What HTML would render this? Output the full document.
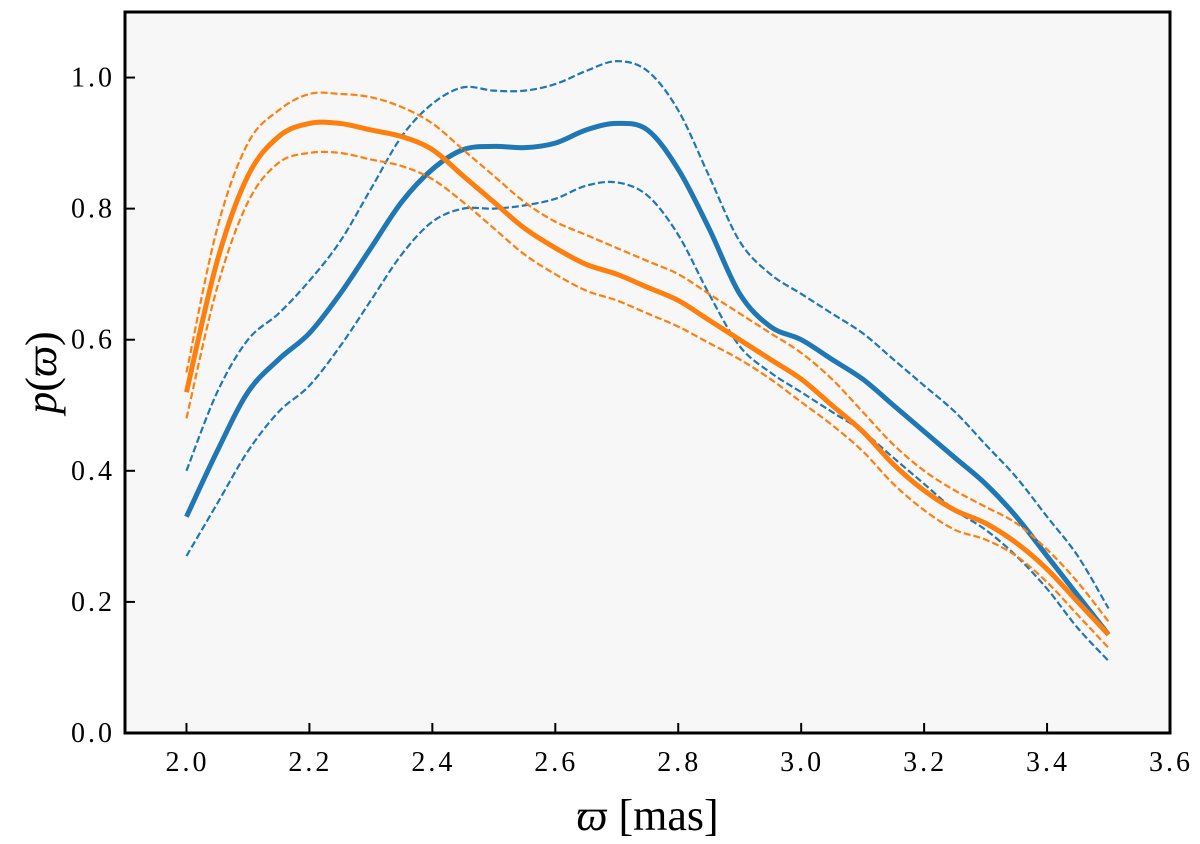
<!DOCTYPE html>
<html><head><meta charset="utf-8">
<style>
html,body{margin:0;padding:0;background:#fff;}
svg{display:block;font-family:"Liberation Serif",serif;}
</style></head>
<body>
<svg id="chart" width="1200" height="844"></svg>
<script>
const xs=[2.0,2.05,2.1,2.15,2.2,2.25,2.3,2.35,2.4,2.45,2.5,2.55,2.6,2.65,2.7,2.75,2.8,2.85,2.9,2.95,3.0,3.05,3.1,3.15,3.2,3.25,3.3,3.35,3.4,3.45,3.5];
const blueMean=[0.33,0.43,0.52,0.57,0.61,0.67,0.74,0.81,0.86,0.89,0.895,0.893,0.90,0.92,0.93,0.92,0.86,0.77,0.67,0.62,0.60,0.57,0.54,0.50,0.46,0.42,0.38,0.33,0.27,0.21,0.15];
const blueUpper=[0.40,0.52,0.60,0.64,0.69,0.75,0.83,0.91,0.96,0.985,0.98,0.98,0.99,1.01,1.025,1.01,0.95,0.85,0.75,0.70,0.67,0.64,0.61,0.57,0.53,0.49,0.44,0.39,0.33,0.27,0.19];
const blueLower=[0.27,0.35,0.43,0.49,0.53,0.59,0.66,0.73,0.78,0.80,0.80,0.805,0.815,0.835,0.84,0.82,0.76,0.67,0.59,0.55,0.52,0.49,0.46,0.42,0.38,0.34,0.31,0.27,0.22,0.16,0.11];
const orangeMean=[0.52,0.72,0.85,0.91,0.93,0.93,0.92,0.91,0.89,0.85,0.81,0.77,0.74,0.715,0.70,0.68,0.66,0.63,0.60,0.57,0.54,0.50,0.46,0.41,0.37,0.34,0.32,0.29,0.25,0.20,0.15];
const orangeUpper=[0.55,0.77,0.90,0.95,0.975,0.975,0.97,0.955,0.93,0.89,0.85,0.81,0.78,0.76,0.74,0.72,0.70,0.67,0.64,0.61,0.58,0.54,0.49,0.44,0.40,0.37,0.345,0.32,0.28,0.23,0.17];
const orangeLower=[0.48,0.68,0.81,0.87,0.885,0.885,0.875,0.865,0.845,0.81,0.77,0.73,0.70,0.675,0.66,0.64,0.62,0.595,0.57,0.54,0.505,0.47,0.43,0.38,0.34,0.31,0.295,0.27,0.23,0.18,0.13];
const xTicks=[2.0,2.2,2.4,2.6,2.8,3.0,3.2,3.4,3.6];
const yTicks=[0.0,0.2,0.4,0.6,0.8,1.0];

const L=125,R=1170,T=12,B=733;
const X=v=>L+(v-1.9)/(3.6-1.9)*(R-L);
const Y=v=>B-(v-0)/(1.1-0)*(B-T);
const NS='http://www.w3.org/2000/svg';
const svg=document.getElementById('chart');
function mk(tag,attrs,parent){const e=document.createElementNS(NS,tag);for(const k in attrs)e.setAttribute(k,attrs[k]);(parent||svg).appendChild(e);return e;}

const bg=mk('rect',{x:L,y:T,width:R-L,height:B-T,fill:'#f7f7f7'});



function path(vals){
  const p=xs.map((x,i)=>[X(x),Y(vals[i])]);
  let d='M'+p[0][0]+','+p[0][1];
  for(let i=0;i<p.length-1;i++){
    const p0=p[Math.max(0,i-1)],p1=p[i],p2=p[i+1],p3=p[Math.min(p.length-1,i+2)];
    const c1x=p1[0]+(p2[0]-p0[0])/6,c1y=p1[1]+(p2[1]-p0[1])/6;
    const c2x=p2[0]-(p3[0]-p1[0])/6,c2y=p2[1]-(p3[1]-p1[1])/6;
    d+=` C${c1x},${c1y} ${c2x},${c2y} ${p2[0]},${p2[1]}`;
  }
  return d;
}
const series=[
 [blueUpper,'#1f77b4',2.2,'blue-upper-bound',true],
 [blueLower,'#1f77b4',2.2,'blue-lower-bound',true],
 [blueMean,'#1f77b4',5,'blue-mean-line',false],
 [orangeUpper,'#ff7f0e',2.2,'orange-upper-bound',true],
 [orangeLower,'#ff7f0e',2.2,'orange-lower-bound',true],
 [orangeMean,'#ff7f0e',5,'orange-mean-line',false]];
series.forEach(s=>{
  const e=mk('path',{d:path(s[0]),fill:'none',stroke:s[1],'stroke-width':s[2]});
  if(s[4])e.setAttribute('stroke-dasharray','7,3');
  
  
});

xTicks.forEach(v=>{
  const t=mk('line',{x1:X(v),x2:X(v),y1:B,y2:B-10,stroke:'#000','stroke-width':2});
  
  
  const l=mk('text',{x:X(v)+1,y:B+38,'text-anchor':'middle','font-size':28,'letter-spacing':3});
  l.textContent=v.toFixed(1);
  
  
});
yTicks.forEach(v=>{
  const t=mk('line',{x1:L,x2:L+10,y1:Y(v),y2:Y(v),stroke:'#000','stroke-width':2});
  
  
  const l=mk('text',{x:L-10,y:Y(v)+9,'text-anchor':'end','font-size':28,'letter-spacing':3});
  l.textContent=v.toFixed(1);
  
  
});
const fr=mk('rect',{x:L,y:T,width:R-L,height:B-T,fill:'none',stroke:'#000','stroke-width':3});



const xl=mk('text',{x:(L+R)/2,y:830,'text-anchor':'middle','font-size':44});
xl.innerHTML='<tspan font-style="italic">ϖ</tspan> [mas]';


const yl=mk('text',{x:0,y:0,'text-anchor':'middle','font-size':44,transform:`translate(56,${(T+B)/2}) rotate(-90)`});
yl.innerHTML='<tspan font-style="italic">p</tspan>(<tspan font-style="italic">ϖ</tspan>)';


</script>
</body></html>
